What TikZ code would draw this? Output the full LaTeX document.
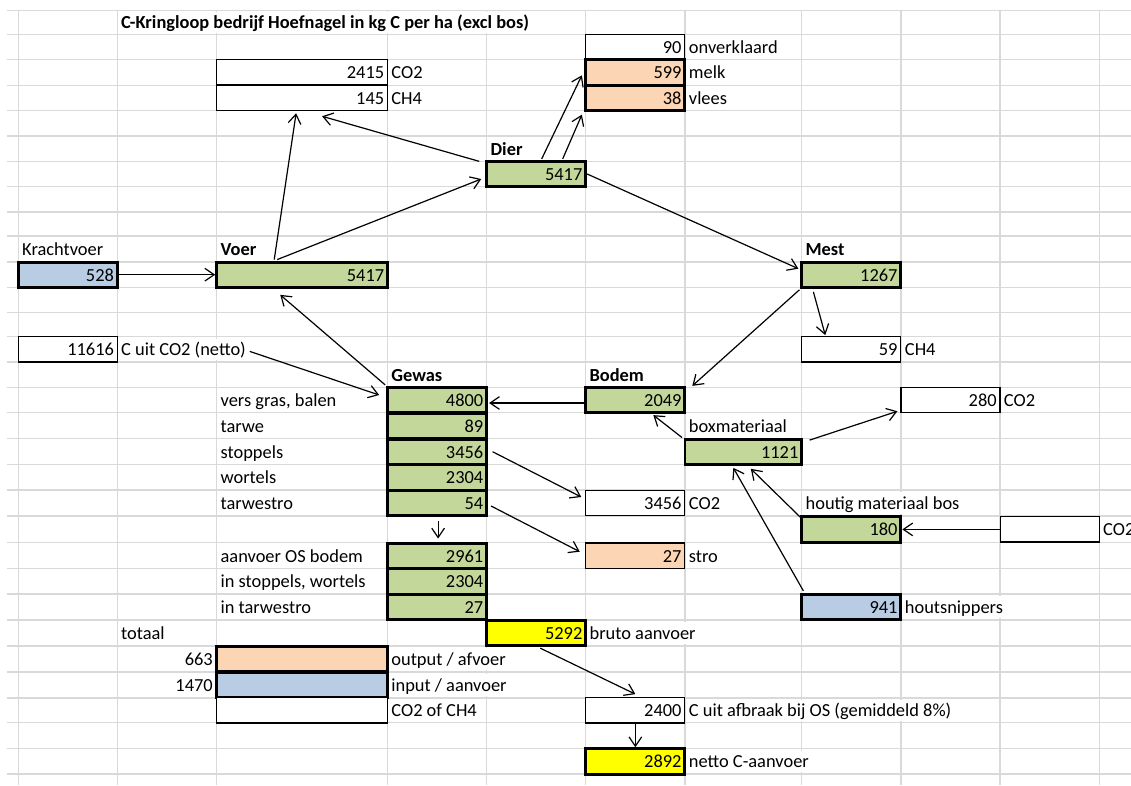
\documentclass[tikz,border=0pt]{standalone}
\usepackage{fontspec}
\setmainfont{Carlito}
\usetikzlibrary{arrows.meta,calc}

\definecolor{groen}{RGB}{196,215,155}
\definecolor{oranje}{RGB}{252,213,180}
\definecolor{blauw}{RGB}{184,204,228}
\definecolor{geel}{RGB}{255,255,0}
\definecolor{rooster}{RGB}{217,217,217}

\newcommand{\celfont}{\fontsize{13.8pt}{16pt}\selectfont}

\tikzset{
  cel/.style={draw, fill=white, rectangle, inner xsep=2.5pt, inner ysep=0pt,
    minimum height=19pt, text width=69.25pt, align=right, line width=0.9pt,
    text height=10.5pt, text depth=1pt},
  breed/.style={text width=123.1pt},
  middel/.style={text width=82.5pt},
  dik/.style={line width=2.2pt},
  lbl/.style={anchor=west, fill=white, inner xsep=2pt, inner ysep=0pt,
    minimum height=16pt, text height=10.5pt, text depth=1pt},
  kop/.style={lbl, font=\celfont\bfseries},
  pijl/.style={->, line width=0.9pt}
}

\begin{document}
\begin{tikzpicture}[x=0.75pt,y=-0.75pt,font=\celfont,>={Straight Barb[length=7pt,width=9.5pt]}]
    \useasboundingbox (0,0) rectangle (1131,785);

    % raster
    \foreach \y in {10.5,34.7,59.3,85.3,110.7,136,161.3,186.7,212,236,262,287.3,312.7,336.7,362,387.3,412.7,438.7,464.7,490,516,542.7,568.7,594,620,646,672,698,722.7,748.7,774}
        \draw[rooster, line width=0.8pt] (7,\y) -- (1131,\y);
    \foreach \x in {18.3,117.3,216.7,387.5,486.7,585.7,685,801.7,901,1000,1099.3}
        \draw[rooster, line width=0.8pt] (\x,10.5) -- (\x,785);

    % teksten
    \node[kop] (titel) at (118.3,22.6) {C-Kringloop bedrijf Hoefnagel in kg C per ha (excl bos)};
    \node[lbl] (lonverkl) at (686,47) {onverklaard};
    \node[lbl] (lco2dier) at (388.5,72.3) {CO2};
    \node[lbl] (lch4dier) at (388.5,98) {CH4};
    \node[lbl] (lmelk) at (686,72.3) {melk};
    \node[lbl] (lvlees) at (686,98) {vlees};
    \node[kop] (ldier) at (487.7,148.7) {Dier};
    \node[lbl] (lkracht) at (19.3,249) {Krachtvoer};
    \node[kop] (lvoer) at (217.7,249) {Voer};
    \node[kop] (lmest) at (802.7,249) {Mest};
    \node[lbl] (lnetto) at (118.3,349.4) {C uit CO2 (netto)};
    \node[lbl] (lmestch4) at (902,349.4) {CH4};
    \node[kop] (lgewas) at (388.5,374.7) {Gewas};
    \node[kop] (lbodem) at (586.7,374.7) {Bodem};
    \node[lbl] (lvgras) at (217.7,400) {vers gras, balen};
    \node[lbl] (lco2box) at (1001,400) {CO2};
    \node[lbl] (ltarwe) at (217.7,425.7) {tarwe};
    \node[lbl] (lboxmat) at (686,425.7) {boxmateriaal};
    \node[lbl] (lstop) at (217.7,451.7) {stoppels};
    \node[lbl] (lwort) at (217.7,477.4) {wortels};
    \node[lbl] (lgstro) at (217.7,503) {tarwestro};
    \node[lbl] (lco2gewas) at (686,503) {CO2};
    \node[lbl] (lhoutbos) at (802.7,503) {houtig materiaal bos};
    \node[lbl] (lbosco2) at (1100.3,529.4) {CO2};
    \node[lbl] (losbodem) at (217.7,555.7) {aanvoer OS bodem};
    \node[lbl] (lstro) at (686,555.7) {stro};
    \node[lbl] (linstop) at (217.7,581.4) {in stoppels, wortels};
    \node[lbl] (lintarw) at (217.7,607) {in tarwestro};
    \node[lbl] (lsnippers) at (902,607) {houtsnippers};
    \node[lbl] (ltotaal) at (118.3,633) {totaal};
    \node[lbl] (lbruto) at (586.7,633) {bruto aanvoer};
    \node[lbl, anchor=east] (waf) at (215.7,659) {663};
    \node[lbl, anchor=east] (waan) at (215.7,685) {1470};
    \node[lbl] (lleg1) at (388.5,659) {output / afvoer};
    \node[lbl] (lleg2) at (388.5,685) {input / aanvoer};
    \node[lbl] (lleg3) at (388.5,710.4) {CO2 of CH4};
    \node[lbl] (lafbraak) at (686,710.4) {C uit afbraak bij OS (gemiddeld 8\%)};
    \node[lbl] (lnettoaanv) at (686,761.4) {netto C-aanvoer};

    % cellen
    \node[cel] (onverkl) at (635.35,47) {90};
    \node[cel, breed] (co2dier) at (302.1,72.3) {2415};
    \node[cel, breed] (ch4dier) at (302.1,98) {145};
    \node[cel, dik, fill=oranje] (melk) at (635.35,72.3) {599};
    \node[cel, dik, fill=oranje] (vlees) at (635.35,98) {38};
    \node[cel, dik, fill=groen] (dier) at (536.2,174) {5417};
    \node[cel, dik, fill=blauw] (kracht) at (67.8,274.7) {528};
    \node[cel, breed, dik, fill=groen] (voer) at (302.1,274.7) {5417};
    \node[cel, dik, fill=groen] (mest) at (851.35,274.7) {1267};
    \node[cel] (netto) at (67.8,349.4) {11616};
    \node[cel] (mestch4) at (851.35,349.4) {59};
    \node[cel, dik, fill=groen] (vgras) at (437.1,400) {4800};
    \node[cel, dik, fill=groen] (tarwe) at (437.1,425.7) {89};
    \node[cel, dik, fill=groen] (stop) at (437.1,451.7) {3456};
    \node[cel, dik, fill=groen] (wort) at (437.1,477.4) {2304};
    \node[cel, dik, fill=groen] (gstro) at (437.1,503) {54};
    \node[cel, dik, fill=groen] (bodem) at (635.35,400) {2049};
    \node[cel] (co2box) at (950.5,400) {280};
    \node[cel, middel, dik, fill=groen] (boxmat) at (743.35,451.7) {1121};
    \node[cel] (co2gewas) at (635.35,503) {3456};
    \node[cel, dik, fill=groen] (houtbos) at (851.35,529.4) {180};
    \node[cel] (bosco2) at (1049.65,529.4) {};
    \node[cel, dik, fill=groen] (osbodem) at (437.1,555.7) {2961};
    \node[cel, dik, fill=groen] (instop) at (437.1,581.4) {2304};
    \node[cel, dik, fill=groen] (intarw) at (437.1,607) {27};
    \node[cel, fill=oranje] (stro) at (635.35,555.7) {27};
    \node[cel, dik, fill=blauw] (snippers) at (851.35,607) {941};
    \node[cel, dik, fill=geel] (bruto) at (536.2,633) {5292};
    \node[cel, breed, dik, fill=oranje] (leg1) at (302.1,659) {};
    \node[cel, breed, dik, fill=blauw] (leg2) at (302.1,685) {};
    \node[cel, breed] (leg3) at (302.1,710.4) {};
    \node[cel] (afbraak) at (635.35,710.4) {2400};
    \node[cel, dik, fill=geel] (nettoaanv) at (635.35,761.4) {2892};

    % pijlen
    \draw[pijl] (kracht.east) -- (voer.west);
    \draw[pijl] ($(voer.north west)+(59,-1)$) -- ($(ch4dier.south west)+(80,2)$);
    \draw[pijl] ($(voer.north west)+(62,-1)$) -- ($(dier.west)+(-4,5)$);
    \draw[pijl] ($(dier.north west)+(-6,1.5)$) -- ($(ch4dier.south)+(20,5)$);
    \draw[pijl] ($(dier.north)+(5.5,-1)$) -- ($(melk.west)+(-2.5,3)$);
    \draw[pijl] ($(dier.north)+(26.5,-1)$) -- ($(vlees.south west)+(-2.5,2.5)$);
    \draw[pijl] (dier.east) -- ($(mest.west)+(-2,-6)$);
    \draw[pijl] ($(mest.south west)+(-1,1)$) -- ($(bodem.north east)+(6,0)$);
    \draw[pijl] ($(mest.south west)+(13,3)$) -- ($(mestch4.north west)+(24,-1)$);
    \draw[pijl] ($(vgras.north west)+(-1,-1)$) -- ($(voer.south west)+(65,6)$);
    \draw[pijl] ($(lnetto.east)+(1,2)$) -- ($(vgras.west)+(-7,-5)$);
    \draw[pijl] ($(bodem.west)+(0,3)$) -- ($(vgras.east)+(1,3)$);
    \draw[pijl] ($(boxmat.north west)+(-1.5,0)$) -- ($(bodem.south east)+(-33,1)$);
    \draw[pijl] ($(boxmat.north east)+(6.5,2.5)$) -- ($(co2box.south west)+(-3,-2)$);
    \draw[pijl] ($(houtbos.north west)+(0,2)$) -- ($(boxmat.south)+(7.5,3)$);
    \draw[pijl] ($(snippers.north west)+(3,-2)$) -- ($(boxmat.south)+(-10,2)$);
    \draw[pijl] (bosco2.west) -- (houtbos.east);
    \draw[pijl] ($(stop.east)+(4.5,0)$) -- ($(co2gewas.west)+(-4,-6)$);
    \draw[pijl] ($(gstro.east)+(3,3)$) -- ($(stro.west)+(-5.5,-4)$);
    \draw[pijl] ($(gstro.south)+(1,4)$) -- ($(osbodem.north)+(1,-3)$);
    \draw[pijl] ($(bruto.south)+(4,1)$) -- ($(afbraak.north)+(0,-3)$);
    \draw[pijl] (afbraak.south) -- (nettoaanv.north);
\end{tikzpicture}
\end{document}
